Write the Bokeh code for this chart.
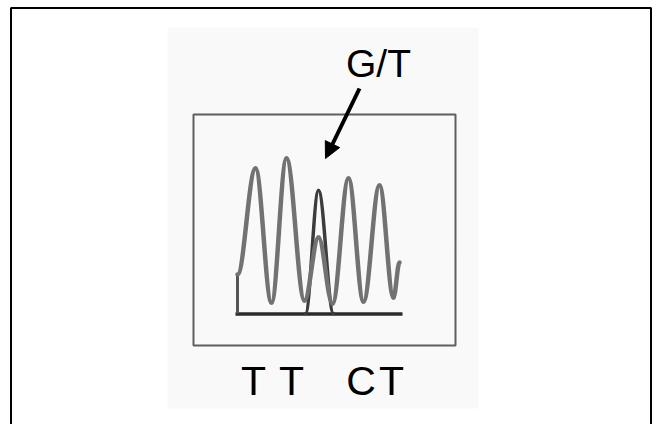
from bokeh.plotting import figure
from bokeh.models import Range1d, Arrow, NormalHead, ColumnDataSource
from bokeh.core.properties import value
from bokeh.embed import file_html
from bokeh.resources import INLINE

# ---- data (page-pixel units) ----
# chromatogram trace extrema (peaks and troughs), grey trace
trace_x = [237, 255, 271, 286, 304, 318, 332, 348, 363, 379, 393, 399]
trace_y = [274, 168, 302, 158, 300, 237, 303, 178, 301, 185, 297, 262]
# darker overlapping peak at the G/T position
dark_x = [305, 318, 333]
dark_y = [313, 190, 313]
# start stub of trace
stub_x = [237, 237]
stub_y = [313, 274]
# baseline
baseline_x = [235, 402]
baseline_y = [313.5, 313.5]
# base calls below the trace
base_labels = ["T", "T", "C", "T"]
base_label_x = [253, 291, 360.5, 391]
base_label_y = [395, 395, 395, 395]
# heterozygous call annotation
allele_label = ["G/T"]
allele_label_x = [378]
allele_label_y = [77]
arrow_start = (359, 88)
arrow_end = (325, 158)
# frames
inner_box = dict(left=193, right=455, top=114, bottom=345)
photo_area = dict(left=167, right=478, top=27, bottom=408)
outer_frame_x = [10.5, 10.5, 650.5, 650.5]
outer_frame_y = [430, 7.5, 7.5, 430]

W, H = 657, 424
p = figure(width=W, height=H, output_backend="svg", toolbar_location=None,
           x_range=Range1d(0, W), y_range=Range1d(H, 0),
           x_axis_type=None, y_axis_type=None, min_border=0,
           background_fill_color="white", border_fill_color="white")
p.outline_line_color = None
p.grid.visible = False

# photo background
p.quad(left=[photo_area["left"]], right=[photo_area["right"]],
       top=[photo_area["top"]], bottom=[photo_area["bottom"]],
       fill_color="#f9f9f9", line_color=None)

# outer frame (three sides, bottom cut off)
p.line(outer_frame_x, outer_frame_y, line_color="black", line_width=2)

# inner box
p.quad(left=[inner_box["left"]], right=[inner_box["right"]],
       top=[inner_box["top"]], bottom=[inner_box["bottom"]],
       fill_color=None, line_color="#5e5e5e", line_width=2)

def bez_source(xs, ys, k=0.3642):
    x0, y0, x1, y1, cx0, cy0, cx1, cy1 = [], [], [], [], [], [], [], []
    for i in range(len(xs) - 1):
        a, b = xs[i], xs[i + 1]
        d = b - a
        x0.append(a); y0.append(ys[i]); x1.append(b); y1.append(ys[i + 1])
        cx0.append(a + k * d); cy0.append(ys[i])
        cx1.append(b - k * d); cy1.append(ys[i + 1])
    return ColumnDataSource(dict(x0=x0, y0=y0, x1=x1, y1=y1,
                                 cx0=cx0, cy0=cy0, cx1=cx1, cy1=cy1))

# baseline
p.line(baseline_x, baseline_y, line_color="#2b2b2b", line_width=3.5)
p.line(stub_x, stub_y, line_color="#555555", line_width=3)

# dark G peak
p.bezier(x0="x0", y0="y0", x1="x1", y1="y1", cx0="cx0", cy0="cy0",
         cx1="cx1", cy1="cy1", source=bez_source(dark_x, dark_y),
         line_color="#3c3c3c", line_width=3.5, line_cap="round")

# grey trace
p.bezier(x0="x0", y0="y0", x1="x1", y1="y1", cx0="cx0", cy0="cy0",
         cx1="cx1", cy1="cy1", source=bez_source(trace_x, trace_y),
         line_color="#727272", line_width=4.5, line_cap="round")

# arrow
p.add_layout(Arrow(end=NormalHead(size=16, fill_color="black", line_color="black"),
                   x_start=arrow_start[0], y_start=arrow_start[1],
                   x_end=arrow_end[0], y_end=arrow_end[1],
                   line_color="black", line_width=4))

# texts
p.text(x=allele_label_x, y=allele_label_y, text=allele_label,
       text_font=value("Liberation Sans"), text_font_size="39px",
       text_align="center", text_baseline="alphabetic", text_color="black",
       y_offset=-14.5)
p.text(x=base_label_x, y=base_label_y, text=base_labels,
       text_font=value("Liberation Sans"), text_font_size="41px",
       text_align="center", text_baseline="alphabetic", text_color="black",
       y_offset=-15)

open("out.html", "w").write(file_html(p, INLINE))
